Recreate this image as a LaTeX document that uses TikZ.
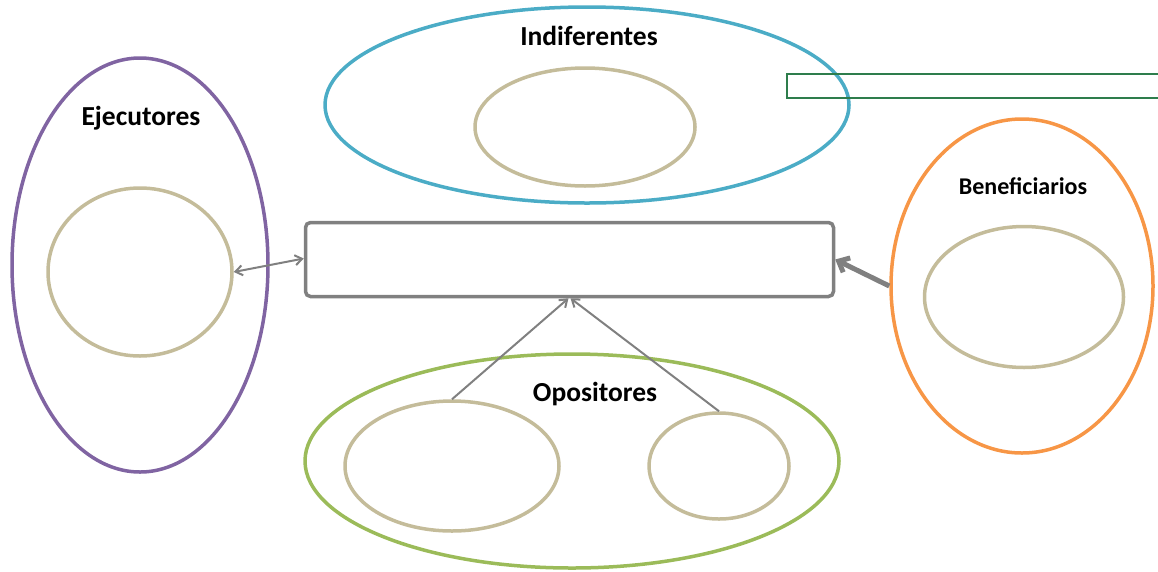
\documentclass[tikz,border=0pt]{standalone}
\usepackage{fontspec}
\setmainfont{Carlito}
\usetikzlibrary{shapes.geometric,arrows.meta}
\definecolor{cpurple}{HTML}{8064A2}
\definecolor{cblue}{HTML}{4BACC6}
\definecolor{corange}{HTML}{F79646}
\definecolor{cgreen}{HTML}{9BBB59}
\definecolor{ctan}{HTML}{C4BC9A}
\definecolor{cdgreen}{HTML}{2E7D4C}
\definecolor{cgray}{HTML}{808080}
\tikzset{
  group/.style={ellipse, draw, line width=3.5pt, inner sep=0pt},
  inner/.style={ellipse, draw=ctan, line width=3.5pt, inner sep=0pt},
  lbl/.style={font=\bfseries\fontsize{27.5}{30}\selectfont, inner sep=0pt},
  conn/.style={draw=cgray, line width=2pt, -{Straight Barb[length=7pt,width=10pt]}},
}
\begin{document}
\begin{tikzpicture}[x=1pt,y=-1pt]
\useasboundingbox (0,0) rectangle (1158,571);
% Ejecutores
\node[group, draw=cpurple, minimum width=256pt, minimum height=414pt] (ejec) at (140,265) {};
\node[inner, minimum width=184pt, minimum height=168pt] (ejecin) at (140,272) {};
\node[lbl] (ejeclbl) at (141,118) {Ejecutores};
% Indiferentes
\node[group, draw=cblue, minimum width=524pt, minimum height=196pt] (indif) at (587,105) {};
\node[inner, minimum width=220pt, minimum height=118pt] (indifin) at (585,127) {};
\node[lbl] (indiflbl) at (589,36) {Indiferentes};
% green rectangle
\draw[cdgreen, line width=2.5pt] (1160,74) -- (787,74) -- (787,98) -- (1160,98);
% central box
\node[draw=cgray, line width=3.5pt, rounded corners=5pt, minimum width=528pt, minimum height=74pt, inner sep=0pt] (center) at (569.5,259.5) {};
% Beneficiarios
\node[group, draw=corange, minimum width=262pt, minimum height=334pt] (benef) at (1022,286) {};
\node[inner, minimum width=199pt, minimum height=141pt] (benefin) at (1024,297) {};
\node[lbl, font=\bfseries\fontsize{24}{27}\selectfont] (beneflbl) at (1023,186) {Beneficiarios};
% Opositores
\node[group, draw=cgreen, minimum width=534pt, minimum height=214pt] (opos) at (572,461) {};
\node[inner, minimum width=214pt, minimum height=130pt] (oposa) at (452,466) {};
\node[inner, minimum width=140pt, minimum height=106pt] (oposb) at (719,466) {};
\node[lbl] (oposlbl) at (595,394) {Opositores};
% connectors
\draw[conn] (oposa.north) -- ([xshift=-1pt]center.south);
\draw[conn] (oposb.north) -- ([xshift=1pt]center.south);
\draw[conn, {Straight Barb[length=7pt,width=10pt]}-{Straight Barb[length=7pt,width=10pt]}] (ejecin.east) -- ([yshift=1pt]center.west);
\draw[draw=cgray, line width=5pt, -{Straight Barb[length=9pt,width=16pt]}] (benef.west) -- (center.east);
\end{tikzpicture}
\end{document}
